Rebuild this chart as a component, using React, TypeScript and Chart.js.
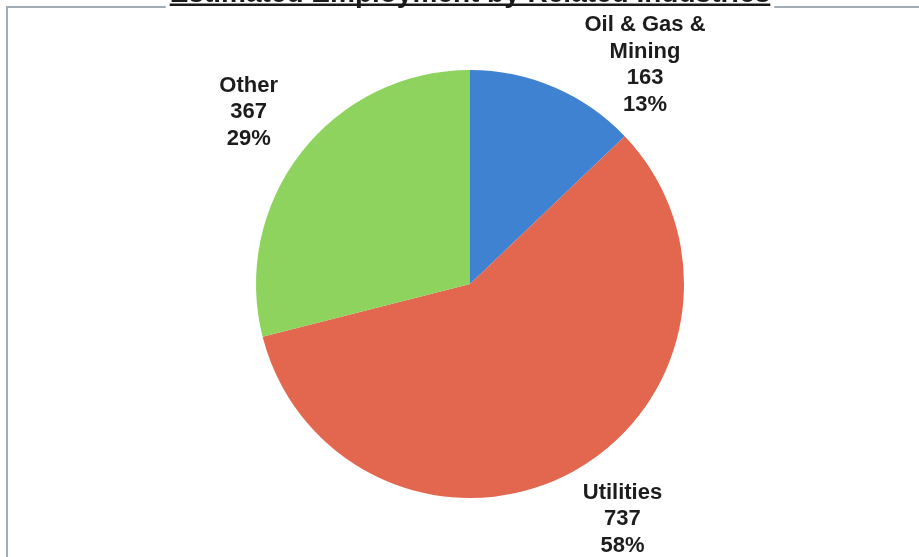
import React, { useEffect, useRef } from "react";
import { Chart, registerables } from "chart.js";

Chart.register(...registerables);

const TITLE = "Estimated Employment by Related Industries";
const categories = ["Oil & Gas &\nMining", "Utilities", "Other"];
const values = [163, 737, 367];
const percents = ["13%", "58%", "29%"];
const colors = ["#3f82d2", "#e3664f", "#8ed35d"];

const FONT = "'Liberation Sans', Arial, sans-serif";

const decorPlugin = {
  id: "decor",
  beforeDraw(chart: any) {
    const ctx = chart.ctx as CanvasRenderingContext2D;
    const W = chart.width;
    const H = chart.height;
    ctx.save();
    ctx.fillStyle = "#ffffff";
    ctx.fillRect(0, 0, W, H);
    ctx.font = `bold 28px ${FONT}`;
    const tw = ctx.measureText(TITLE).width;
    const cx = 470;
    const left = cx - tw / 2;
    const right = cx + tw / 2;
    // frame
    ctx.strokeStyle = "#a3abb3";
    ctx.lineWidth = 2;
    ctx.beginPath();
    ctx.moveTo(7, H);
    ctx.lineTo(7, 7);
    ctx.lineTo(left - 4, 7);
    ctx.moveTo(right + 4, 7);
    ctx.lineTo(W, 7);
    ctx.stroke();
    // title (cut off at top)
    ctx.fillStyle = "#1a1a1a";
    ctx.textAlign = "center";
    ctx.textBaseline = "alphabetic";
    ctx.fillText(TITLE, cx, 2);
    ctx.fillRect(left, 3.5, tw, 2.5);
    ctx.restore();
  },
};

const labelPlugin = {
  id: "pieLabels",
  afterDraw(chart: any) {
    const ctx = chart.ctx as CanvasRenderingContext2D;
    const meta = chart.getDatasetMeta(0);
    const lineH = 26.5;
    const minTop = 12;
    const maxBottom = chart.height + 2;
    ctx.save();
    ctx.font = `bold 22px ${FONT}`;
    ctx.fillStyle = "#1c1c1c";
    ctx.textAlign = "center";
    ctx.textBaseline = "middle";
    meta.data.forEach((arc: any, i: number) => {
      const p = arc.getProps(["x", "y", "startAngle", "endAngle", "outerRadius"], true);
      const mid = (p.startAngle + p.endAngle) / 2;
      const dist = p.outerRadius * 1.31;
      const lines = [
        ...categories[i].split("\n"),
        String(values[i]),
        percents[i],
      ];
      const blockH = lines.length * lineH;
      let lx = p.x + Math.cos(mid) * dist;
      let ly = p.y + Math.sin(mid) * dist;
      let top = ly - blockH / 2;
      let moved = false;
      if (top < minTop) {
        top = minTop;
        moved = true;
      }
      if (top + blockH > maxBottom) {
        top = maxBottom - blockH;
        moved = true;
      }
      if (moved) {
        ly = top + blockH / 2;
        const dy = ly - p.y;
        const dx = Math.sqrt(Math.max(dist * dist - dy * dy, 0));
        lx = p.x + Math.sign(Math.cos(mid)) * dx;
      }
      lines.forEach((t, k) => {
        ctx.fillText(t, lx, top + lineH / 2 + k * lineH);
      });
    });
    ctx.restore();
  },
};

export default function App() {
  const ref = useRef<HTMLCanvasElement | null>(null);
  useEffect(() => {
    if (!ref.current) return;
    const chart = new Chart(ref.current, {
      type: "pie",
      data: {
        labels: categories.map((c) => c.replace("\n", " ")),
        datasets: [
          {
            data: values,
            backgroundColor: colors,
            borderWidth: 0,
          },
        ],
      },
      options: {
        animation: false,
        responsive: true,
        maintainAspectRatio: false,
        layout: { padding: { top: 70, bottom: 59, left: 170, right: 149 } },
        plugins: {
          legend: { display: false },
          tooltip: { enabled: false },
          title: { display: false },
        },
      },
      plugins: [decorPlugin, labelPlugin],
    });
    return () => chart.destroy();
  }, []);
  return (
    <div style={{ position: "fixed", left: 0, top: 0, width: 919, height: 557, background: "#fff" }}>
      <canvas ref={ref} />
    </div>
  );
}
